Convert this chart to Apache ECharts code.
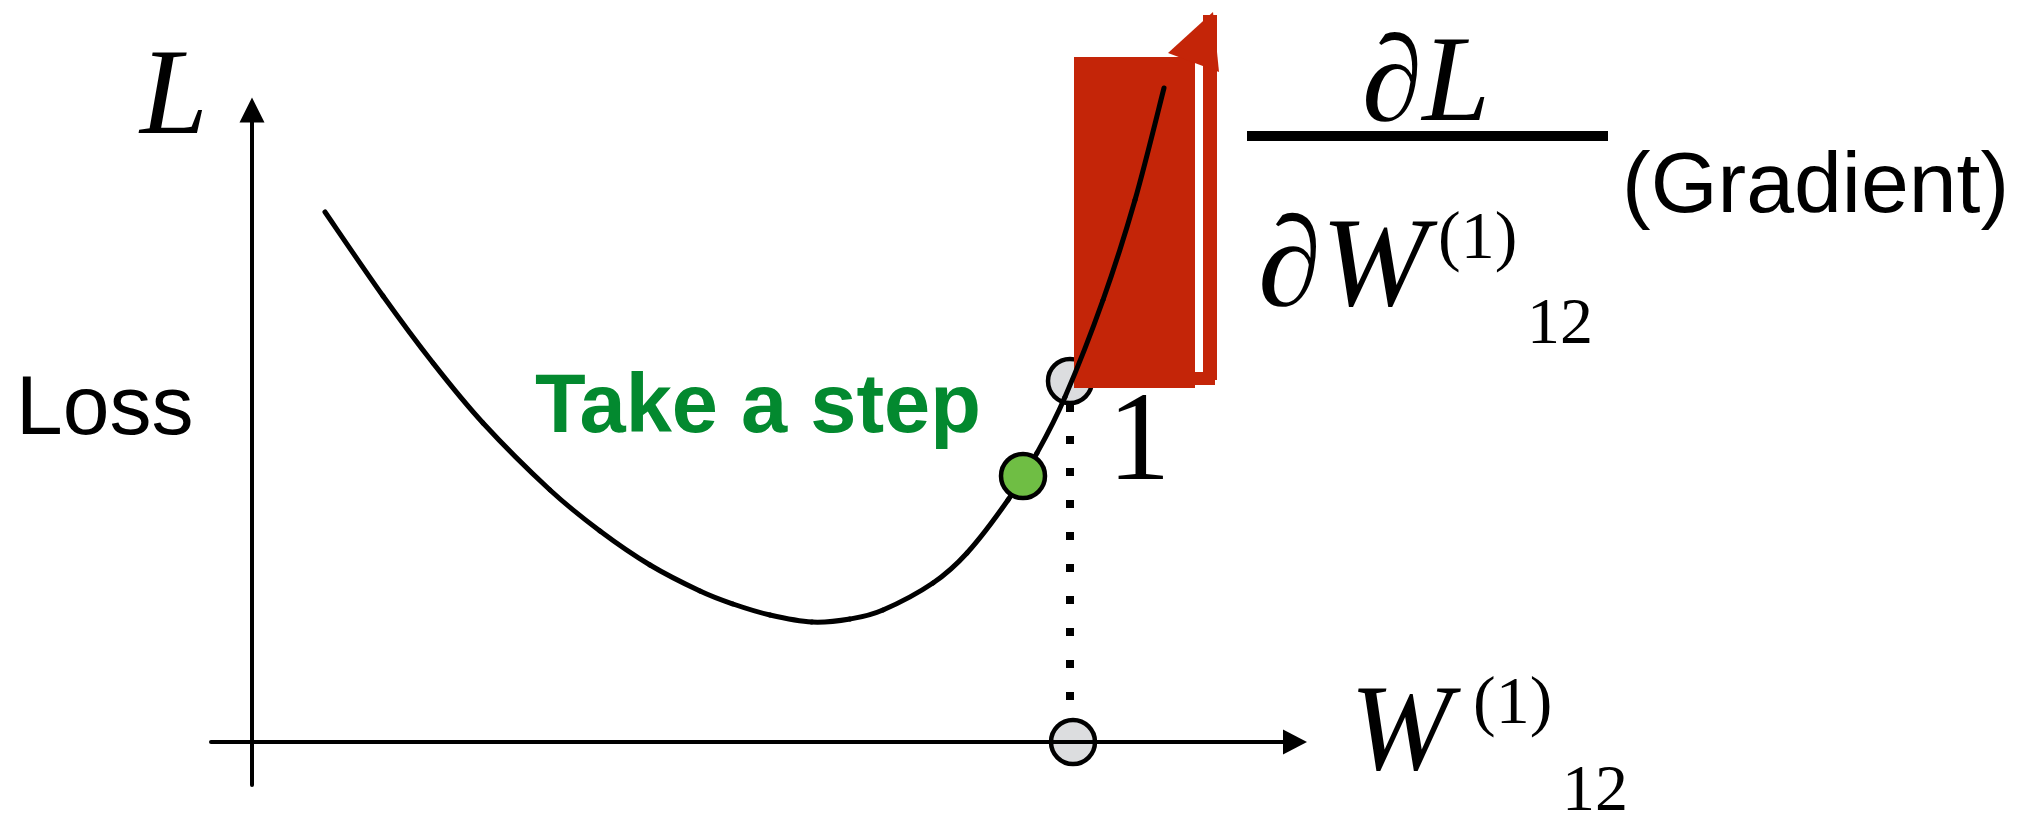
<!DOCTYPE html>
<html>
<head>
<meta charset="utf-8">
<script src="https://cdn.jsdelivr.net/npm/echarts@6/dist/echarts.min.js"></script>
<style>
  html, body { margin: 0; padding: 0; background: #ffffff; }
  #chart { width: 2029px; height: 817px; }
</style>
</head>
<body>
<div id="chart"></div>
<script>
// 损失曲线（权重 W -> 损失 L）
const weightVals = [0.73, 1.31, 1.81, 2.31, 2.98, 3.48, 3.98, 4.48, 4.81, 5.18, 5.60, 5.98, 6.31, 6.81, 7.15, 7.56, 7.85, 8.13, 8.51, 8.83, 9.12];
const lossVals   = [5.30, 4.46, 3.79, 3.19, 2.52, 2.11, 1.77, 1.51, 1.38, 1.27, 1.20, 1.23, 1.32, 1.59, 1.89, 2.42, 2.89, 3.45, 4.42, 5.42, 6.54];

// 当前点、下一步的点、投影到横轴的点
const currentPoint = [8.18, 3.61];
const stepPoint = [7.71, 2.66];
const axisPoint = [8.21, 0];
const dropLine = [[8.18, 3.38], [8.18, 0.42]];

// 梯度箭头（红色块）：[x0, y0, x1, y1]
const gradRects = [
    [8.22, 3.54, 9.43, 6.85],
    [9.43, 3.57, 9.63, 3.70],
    [9.51, 3.62, 9.65, 7.27]
];
const gradHead = [[9.16, 6.89], [9.61, 7.30], [9.67, 6.70]];

const serif = '"Liberation Serif", "Times New Roman", serif';
const sans = '"Liberation Sans", Arial, sans-serif';
const red = '#C42508';

const chart = echarts.init(document.getElementById('chart'));

// 文字按基线定位（middle 对齐，向上偏移约 0.29 字号）
function txt(text, x, baseline, size, font, color, align) {
    return {
        type: 'text',
        z: 100,
        style: {
            text: text, x: x, y: baseline - size * 0.29, font: font.replace('#', size + 'px'),
            fill: color || '#000',
            align: align || 'left', textAlign: align || 'left',
            verticalAlign: 'middle', textVerticalAlign: 'middle'
        }
    };
}

const curveData = weightVals.map(function (w, i) { return [w, lossVals[i]]; });

// 曲线：每段用 Catmull-Rom 转成三次贝塞尔
function renderCurveSegment(params, api) {
    const i = params.dataIndex;
    const n = curveData.length;
    if (i >= n - 1) return null;
    const p0 = api.coord(curveData[Math.max(i - 1, 0)]);
    const p1 = api.coord(curveData[i]);
    const p2 = api.coord(curveData[i + 1]);
    const p3 = api.coord(curveData[Math.min(i + 2, n - 1)]);
    return {
        type: 'bezierCurve',
        shape: {
            x1: p1[0], y1: p1[1], x2: p2[0], y2: p2[1],
            cpx1: p1[0] + (p2[0] - p0[0]) / 6, cpy1: p1[1] + (p2[1] - p0[1]) / 6,
            cpx2: p2[0] - (p3[0] - p1[0]) / 6, cpy2: p2[1] - (p3[1] - p1[1]) / 6
        },
        style: { stroke: '#000', lineWidth: 5, fill: null, lineCap: 'round' }
    };
}

const option = {
    animation: false,
    backgroundColor: '#ffffff',
    grid: { left: 211, top: 110, width: 1084, height: 675 },
    xAxis: {
        type: 'value', min: -0.41, max: 10.43, z: 10,
        axisLine: {
            onZero: true, symbol: ['none', 'triangle'], symbolSize: [25, 24],
            lineStyle: { color: '#000', width: 4 }
        },
        axisTick: { show: false }, axisLabel: { show: false }, splitLine: { show: false }
    },
    yAxis: {
        type: 'value', min: -0.43, max: 6.32,
        axisLine: {
            onZero: true, symbol: ['none', 'triangle'], symbolSize: [25, 25],
            lineStyle: { color: '#000', width: 4 }
        },
        axisTick: { show: false }, axisLabel: { show: false }, splitLine: { show: false }
    },
    series: [
        {
            // 当前点（灰色）
            type: 'scatter', z: 1, silent: true,
            symbolSize: 44,
            itemStyle: { color: '#DCDDDF', borderColor: '#000', borderWidth: 4.5, opacity: 1 },
            data: [currentPoint, axisPoint]
        },
        {
            type: 'line', z: 1, silent: true, showSymbol: false, clip: false,
            lineStyle: { color: '#000', width: 8, type: [8, 24], cap: 'butt' },
            data: dropLine
        },
        {
            // 梯度方向的红色块
            type: 'custom', z: 2, silent: true, clip: false,
            data: gradRects,
            encode: { x: [0, 2], y: [1, 3] },
            renderItem: function (params, api) {
                const p0 = api.coord([api.value(0), api.value(3)]);
                const p1 = api.coord([api.value(2), api.value(1)]);
                return {
                    type: 'rect',
                    shape: { x: p0[0], y: p0[1], width: p1[0] - p0[0], height: p1[1] - p0[1] },
                    style: { fill: red }
                };
            }
        },
        {
            type: 'custom', z: 2, silent: true, clip: false,
            data: [0],
            renderItem: function (params, api) {
                return {
                    type: 'polygon',
                    shape: { points: gradHead.map(function (p) { return api.coord(p); }) },
                    style: { fill: red }
                };
            }
        },
        {
            // 损失曲线
            type: 'custom', z: 3, silent: true, clip: false,
            data: curveData,
            encode: { x: 0, y: 1 },
            renderItem: renderCurveSegment
        },
        {
            type: 'scatter', z: 4, silent: true,
            symbolSize: 44,
            itemStyle: { color: '#6FBE44', borderColor: '#000', borderWidth: 4.5, opacity: 1 },
            data: [stepPoint]
        }
    ],
    graphic: [
        txt('L', 140, 136, 122, 'italic # ' + serif),
        txt('Loss', 16, 435, 84, '# ' + sans),
        txt('Take a step', 535, 433, 83, 'bold # ' + sans, '#03892F'),
        txt('1', 1139, 482, 126, '# ' + serif, '#000', 'center'),
        txt('\u2202L', 1426, 123, 122, 'italic # ' + serif, '#000', 'center'),
        { type: 'rect', z: 100, shape: { x: 1247, y: 131, width: 361, height: 10 }, style: { fill: '#000' } },
        txt('\u2202W', 1258, 308, 128, 'italic # ' + serif),
        txt('(1)', 1438, 260, 68, '# ' + serif),
        txt('12', 1527, 345, 66, '# ' + serif),
        txt('(Gradient)', 1622, 213, 86, '# ' + sans),
        txt('W', 1350, 772, 122, 'italic # ' + serif),
        txt('(1)', 1473, 725, 68, '# ' + serif),
        txt('12', 1562, 812, 66, '# ' + serif)
    ]
};

chart.setOption(option);
window.addEventListener('resize', function () { chart.resize(); });
</script>
</body>
</html>
